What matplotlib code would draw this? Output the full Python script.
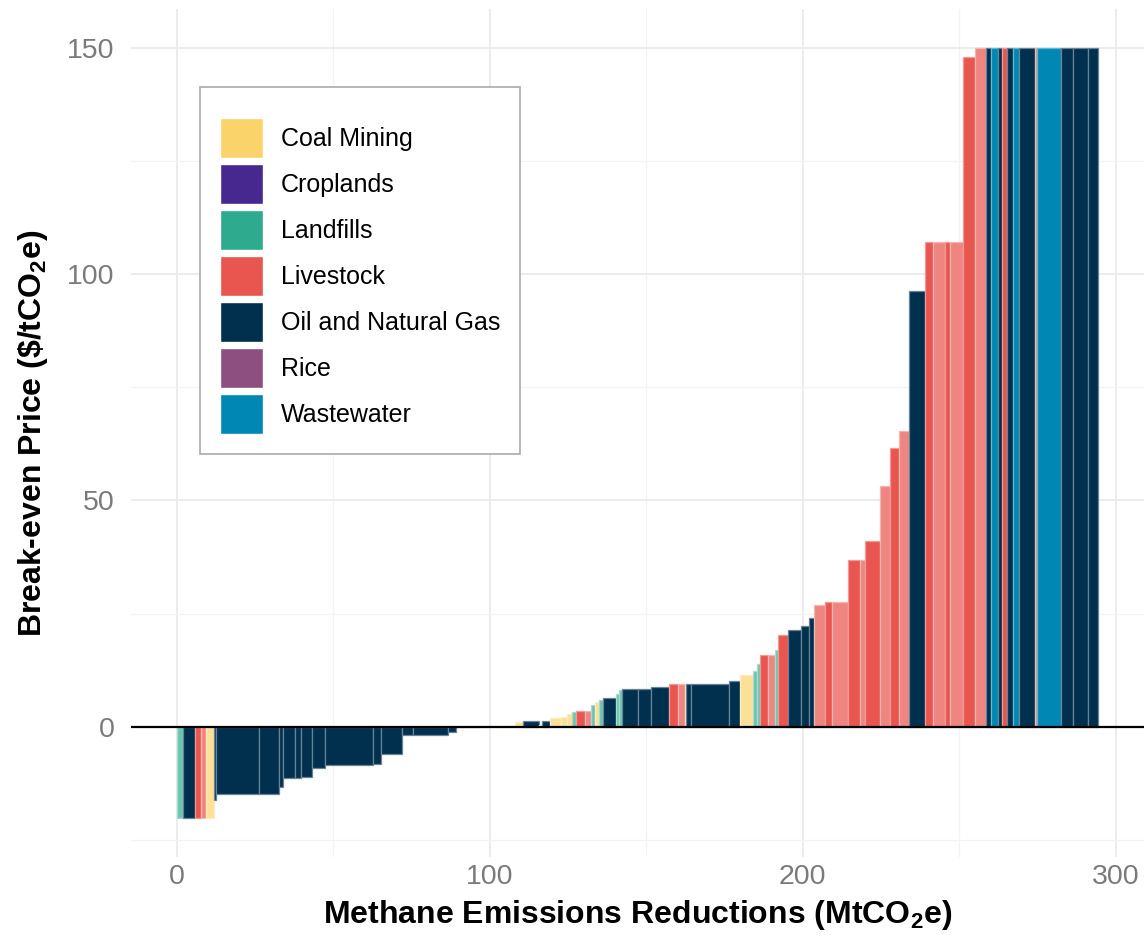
import numpy as np
import matplotlib
matplotlib.use('Agg')
import matplotlib.pyplot as plt
from matplotlib.patches import Patch
from matplotlib.colors import to_rgb

plt.rcParams['font.family'] = ['Liberation Sans', 'DejaVu Sans']
plt.rcParams['mathtext.fontset'] = 'custom'
plt.rcParams['mathtext.rm'] = 'Liberation Sans'
plt.rcParams['mathtext.bf'] = 'Liberation Sans:bold'

sectors = ['Coal Mining', 'Croplands', 'Landfills', 'Livestock',
           'Oil and Natural Gas', 'Rice', 'Wastewater']
sector_colors = ['#FBD36B', '#46288F', '#2EAB8E', '#E8564F',
                 '#01304F', '#8C4F80', '#0087B3']

C, L, LV, O, W = 'Coal Mining', 'Landfills', 'Livestock', 'Oil and Natural Gas', 'Wastewater'

bar_widths = [1.8, 3.9, 1.9, 1.6, 2.7, 0.7, 13.7, 6.3, 1.3, 3.7,
              2.1, 3.4, 4.1, 15.5, 2.4, 6.9, 3.5, 11.2, 2.4, 7.9,
              7.2, 3.7, 2.6, 5.1, 1.1, 2.5, 3.5, 2.1, 1.6, 1.3,
              2.7, 1.8, 1.4, 1.3, 1.3, 4.1, 1.1, 1.0, 4.8, 4.3,
              5.8, 2.9, 2.1, 0.5, 1.4, 12.3, 3.4, 4.3, 1.1, 1.0,
              2.7, 2.2, 0.9, 3.2, 4.1, 2.6, 1.6, 3.5, 2.4, 5.0,
              3.7, 1.6, 4.8, 3.2, 3.0, 3.1, 5.1, 2.7, 3.7, 1.6,
              4.2, 3.8, 3.6, 1.7, 2.1, 1.4, 1.6, 1.8, 2.1, 4.8,
              0.8, 7.8, 3.7, 4.8, 3.2]
bar_prices = [-20.2, -20.2, -20.2, -20.2, -20.2, -16.1, -14.8, -14.8, -13.2, -11.3,
              -11.2, -11.0, -9.1, -8.5, -8.2, -6.0, -1.8, -1.8, -1.2, -0.05,
              0.05, 0.3, 1.0, 1.3, 0.5, 1.3, 1.9, 2.3, 2.8, 3.4,
              3.6, 3.6, 4.8, 5.5, 6.0, 6.3, 7.2, 8.1, 8.3, 8.3,
              8.9, 9.4, 9.4, 9.4, 9.5, 9.6, 10.2, 11.5, 12.3, 14.0,
              15.9, 15.9, 17.0, 20.3, 21.4, 22.3, 24.0, 26.9, 27.5, 27.5,
              36.9, 36.9, 41.1, 53.3, 61.5, 65.4, 96.3, 107.1, 107.1, 107.1,
              107.1, 148.0, 150, 150, 150, 150, 150, 150, 150, 150,
              150, 150, 150, 150, 150]
bar_sectors = [L, O, LV, LV, C, O, O, O, O, O,
               O, O, O, O, O, O, O, O, O, O,
               C, C, C, O, C, O, C, C, C, L,
               LV, LV, L, C, L, O, L, L, O, O,
               O, LV, LV, C, O, O, O, C, L, L,
               LV, LV, L, LV, O, O, O, LV, LV, LV,
               LV, LV, LV, LV, LV, LV, O, LV, LV, LV,
               LV, LV, LV, O, W, O, LV, O, W, O,
               LV, W, O, O, O]


def mix(c, f):
    r = np.array(to_rgb(c))
    return tuple(r + (1 - r) * f)


color_of = dict(zip(sectors, sector_colors))
face = []
counts = {}
for s in bar_sectors:
    k = counts.get(s, 0)
    counts[s] = k + 1
    base = color_of[s]
    if s == LV:
        face.append(mix(base, 0.28 if k % 2 else 0.0))
    elif s in (C, L):
        face.append(mix(base, 0.3))
    else:
        face.append(to_rgb(base))
edges = [mix(f, 0.4) for f in face]

widths = np.array(bar_widths)
lefts = np.concatenate([[0.0], np.cumsum(widths)[:-1]])

fig = plt.figure(figsize=(11.44, 9.35), dpi=100)
ax = fig.add_axes([131 / 1144, 78 / 935, 1 - 131 / 1144, 848 / 935])

ax.bar(lefts, bar_prices, width=widths, align='edge', color=face,
       edgecolor=edges, linewidth=0.9, zorder=2)
ax.axhline(0, color='black', lw=1.6, zorder=3)

ax.set_xlim(-14.7, 309.1)
ax.set_ylim(-28.7, 158.5)
ax.set_xticks([0, 100, 200, 300])
ax.set_xticks([50, 150, 250], minor=True)
ax.set_yticks([0, 50, 100, 150])
ax.set_yticks([-25, 25, 75, 125], minor=True)
ax.grid(which='major', color='#EBEBEB', lw=1.3, zorder=0)
ax.grid(which='minor', color='#F3F3F3', lw=0.9, zorder=0)
ax.set_axisbelow(True)
for sp in ax.spines.values():
    sp.set_visible(False)
ax.tick_params(which='both', length=0, labelsize=20.5, labelcolor='#7a7a7a')
ax.tick_params(axis='x', pad=5)
ax.tick_params(axis='y', pad=12)

ax.set_xlabel(r'Methane Emissions Reductions (MtCO$_\mathbf{2}$e)',
              fontsize=23, fontweight='bold', labelpad=6)
ax.set_ylabel(r'Break-even Price (\$/tCO$_\mathbf{2}$e)',
              fontsize=23, fontweight='bold', labelpad=12)

handles = [Patch(facecolor=c, edgecolor='white', linewidth=1.0) for c in sector_colors]
leg = ax.legend(handles, sectors, loc='upper left', bbox_to_anchor=(0.068, 0.908),
                borderaxespad=0, fontsize=18, frameon=True, fancybox=False,
                edgecolor='#AAAAAA', framealpha=1, handlelength=1.72,
                handleheight=2.085, labelspacing=0.24, handletextpad=0.72,
                borderpad=0.8, title=' ', title_fontsize=4)
leg.get_frame().set_linewidth(1.2)
leg.set_zorder(5)

fig.savefig('out.png', dpi=100)
